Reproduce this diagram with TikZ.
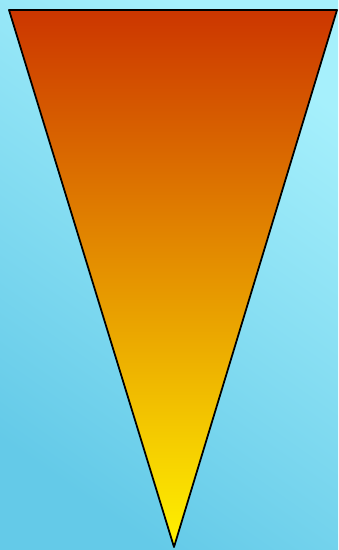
\documentclass[tikz,border=0pt]{standalone}
\definecolor{skyhi}{HTML}{A6F0FC}
\definecolor{skymid}{HTML}{8AE6F8}
\definecolor{skylo}{HTML}{64CAE8}
\definecolor{conetop}{HTML}{CC3600}
\definecolor{conemid}{HTML}{E2900A}
\definecolor{conetip}{HTML}{FFF200}

\begin{document}
\begin{tikzpicture}[x=0.02cm,y=-0.02cm,line cap=round,line join=round]
  \coordinate (NW) at (0,0);
  \coordinate (SE) at (338,550);
  \coordinate (A) at (9,10);
  \coordinate (B) at (337,10);
  \coordinate (C) at (174,547);
  \useasboundingbox (NW) rectangle (SE);
  \shade[bottom color=skylo,middle color=skymid,top color=skyhi,shading angle=-35] (NW) rectangle (SE);
  \shade[top color=conetop,middle color=conemid,bottom color=conetip] (A) -- (B) -- (C) -- cycle;
  \draw[line width=1pt] (A) -- (B) -- (C) -- cycle;
\end{tikzpicture}
\end{document}
